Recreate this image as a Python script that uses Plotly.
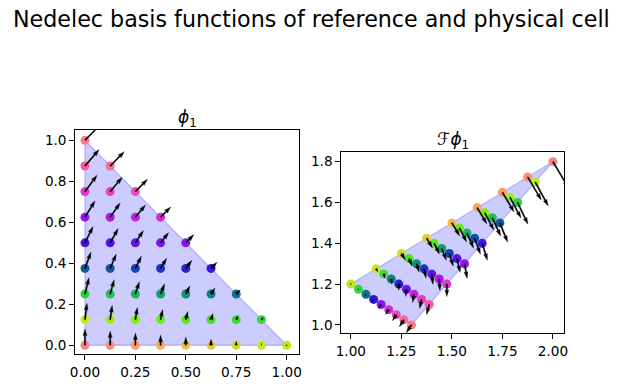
import math
import plotly.graph_objects as go

# ---------------- data ----------------
# reference cell points (row by row, y = 0 ... 1)
ref_x = [0, 0.125, 0.25, 0.375, 0.5, 0.625, 0.75, 0.875, 1.0,
         0, 0.125, 0.25, 0.375, 0.5, 0.625, 0.75, 0.875,
         0, 0.125, 0.25, 0.375, 0.5, 0.625, 0.75,
         0, 0.125, 0.25, 0.375, 0.5, 0.625,
         0, 0.125, 0.25, 0.375, 0.5,
         0, 0.125, 0.25, 0.375,
         0, 0.125, 0.25,
         0, 0.125,
         0]
ref_y = [0] * 9 + [0.125] * 8 + [0.25] * 7 + [0.375] * 6 + [0.5] * 5 + \
        [0.625] * 4 + [0.75] * 3 + [0.875] * 2 + [1.0]
ref_u = [0] * 9 + [0.125] * 8 + [0.25] * 7 + [0.375] * 6 + [0.5] * 5 + \
        [0.625] * 4 + [0.75] * 3 + [0.875] * 2 + [1.0]
ref_v = [1, 0.875, 0.75, 0.625, 0.5, 0.375, 0.25, 0.125, 0,
         1, 0.875, 0.75, 0.625, 0.5, 0.375, 0.25, 0.125,
         1, 0.875, 0.75, 0.625, 0.5, 0.375, 0.25,
         1, 0.875, 0.75, 0.625, 0.5, 0.375,
         1, 0.875, 0.75, 0.625, 0.5,
         1, 0.875, 0.75, 0.625,
         1, 0.875, 0.75,
         1, 0.875,
         1]

# physical cell points (same order)
phys_x = [2.0, 1.875, 1.75, 1.625, 1.5, 1.375, 1.25, 1.125, 1.0,
          1.9125, 1.7875, 1.6625, 1.5375, 1.4125, 1.2875, 1.1625, 1.0375,
          1.825, 1.7, 1.575, 1.45, 1.325, 1.2, 1.075,
          1.7375, 1.6125, 1.4875, 1.3625, 1.2375, 1.1125,
          1.65, 1.525, 1.4, 1.275, 1.15,
          1.5625, 1.4375, 1.3125, 1.1875,
          1.475, 1.35, 1.225,
          1.3875, 1.2625,
          1.3]
phys_y = [1.8, 1.725, 1.65, 1.575, 1.5, 1.425, 1.35, 1.275, 1.2,
          1.7, 1.625, 1.55, 1.475, 1.4, 1.325, 1.25, 1.175,
          1.6, 1.525, 1.45, 1.375, 1.3, 1.225, 1.15,
          1.5, 1.425, 1.35, 1.275, 1.2, 1.125,
          1.4, 1.325, 1.25, 1.175, 1.1,
          1.3, 1.225, 1.15, 1.075,
          1.2, 1.125, 1.05,
          1.1, 1.025,
          1.0]
phys_u = [1.579, 1.382, 1.184, 0.987, 0.789, 0.592, 0.395, 0.197, 0.0,
          1.316, 1.118, 0.921, 0.724, 0.526, 0.329, 0.132, -0.066,
          1.053, 0.855, 0.658, 0.461, 0.263, 0.066, -0.132,
          0.789, 0.592, 0.395, 0.197, 0.0, -0.197,
          0.526, 0.329, 0.132, -0.066, -0.263,
          0.263, 0.066, -0.132, -0.329,
          0.0, -0.197, -0.395,
          -0.263, -0.461,
          -0.526]
phys_v = [-2.632, -2.303, -1.974, -1.645, -1.316, -0.987, -0.658, -0.329, 0.0,
          -2.401, -2.072, -1.743, -1.414, -1.086, -0.757, -0.428, -0.099,
          -2.171, -1.842, -1.513, -1.184, -0.855, -0.526, -0.197,
          -1.941, -1.612, -1.283, -0.954, -0.625, -0.296,
          -1.711, -1.382, -1.053, -0.724, -0.395,
          -1.480, -1.151, -0.822, -0.493,
          -1.250, -0.921, -0.592,
          -1.020, -0.691,
          -0.789]

point_colors = [
    "#f78585", "#f88f78", "#f89c6c", "#f2ab5e", "#eabd4c", "#e0cc3c", "#d4da2c", "#c8e424", "#b8ea18",
    "#bcee20", "#9cee14", "#84ee14", "#70ea18", "#5ee61e", "#4ee024", "#40da2e", "#34d63c",
    "#30cc44", "#22c254", "#18b462", "#12a46e", "#10927a", "#108284", "#10708e",
    "#105e96", "#1252a8", "#1444b8", "#1c34c8", "#2424d4", "#3218dc",
    "#4414e2", "#5412e8", "#6612ee", "#7a12f0", "#8e12f0",
    "#9c12ee", "#b016e8", "#c220e0", "#d22cd6",
    "#dc36cc", "#e640c0", "#ee4cb4",
    "#f45aa6", "#f86898",
    "#f87a86",
]

ref_cell_x = [0, 1, 0]
ref_cell_y = [0, 0, 1]
phys_cell_x = [2.0, 1.0, 1.3]
phys_cell_y = [1.8, 1.2, 1.0]

left_xticks = [0, 0.25, 0.5, 0.75, 1.0]
left_xtext = ["0.00", "0.25", "0.50", "0.75", "1.00"]
left_yticks = [0, 0.2, 0.4, 0.6, 0.8, 1.0]
left_ytext = ["0.0", "0.2", "0.4", "0.6", "0.8", "1.0"]
right_xticks = [1.0, 1.25, 1.5, 1.75, 2.0]
right_xtext = ["1.00", "1.25", "1.50", "1.75", "2.00"]
right_yticks = [1.0, 1.2, 1.4, 1.6, 1.8]
right_ytext = ["1.0", "1.2", "1.4", "1.6", "1.8"]

suptitle = "Nedelec basis functions of reference and physical cell"
left_title = "<i>ϕ</i><sub>1</sub>"
right_title = "ℱ<i>ϕ</i><sub>1</sub>"

# ---------------- layout geometry ----------------
W, H = 619, 389
left_xr = [-0.048, 1.063]
left_yr = [-0.044, 1.049]
right_xr = [0.953, 2.057]
right_yr = [0.959, 1.846]
left_dom_x = [70.3 / W, 297.7 / W]
left_dom_y = [1 - 354.3 / H, 1 - 130.3 / H]
right_dom_x = [340.3 / W, 566.7 / W]
right_dom_y = [1 - 333.3 / H, 1 - 152.3 / H]


def quiver_polys(px, py, u, v, xr):
    """matplotlib-like quiver arrow polygons (autoscale, tail pivot)."""
    mags = [math.hypot(a, b) for a, b in zip(u, v)]
    amean = sum(mags) / len(mags)
    span = xr[1] - xr[0]
    width = 0.006 * span                    # shaft width in data units
    headwidth, headlength, headaxislength = 3.0, 5.0, 4.5
    minsh = 1.0 * headlength
    minlength = 1.0
    xs, ys = [], []
    for x0, y0, a, b, m in zip(px, py, u, v, mags):
        L = m / (0.108 * amean)             # length in shaft widths
        if L < minlength:
            th = [k * math.pi / 3 for k in range(8)]
            X = [math.cos(t) * minlength * 0.5 for t in th]
            Y = [math.sin(t) * minlength * 0.5 for t in th]
        else:
            if L < minsh:
                s = L / minsh
                xx = [0, minsh - headaxislength, minsh - headlength, minsh]
                xx = [s * q for q in xx]
                yy = [s * q for q in [0.5, 0.5, 0.5 * headwidth, 0]]
            else:
                xx = [0, L - headaxislength, L - headlength, L]
                yy = [0.5, 0.5, 0.5 * headwidth, 0]
            ii = [0, 1, 2, 3, 2, 1, 0, 0]
            X = [xx[k] for k in ii]
            Y = [yy[k] for k in ii]
            for k in range(3, 7):
                Y[k] = -Y[k]
        ang = math.atan2(b, a) if m > 0 else 0.0
        ca, sa = math.cos(ang), math.sin(ang)
        for X1, Y1 in zip(X, Y):
            xs.append(x0 + width * (X1 * ca - Y1 * sa))
            ys.append(y0 + width * (X1 * sa + Y1 * ca))
        xs.append(None)
        ys.append(None)
    return xs, ys


fig = go.Figure()


def add_panel(cx, cy, px, py, u, v, xr, xa, ya):
    fig.add_trace(go.Scatter(
        x=cx + [cx[0]], y=cy + [cy[0]], mode="lines", fill="toself",
        fillcolor="rgba(0,0,255,0.2)", line=dict(color="rgba(0,0,255,0.2)", width=1.4),
        xaxis=xa, yaxis=ya, hoverinfo="skip", showlegend=False))
    fig.add_trace(go.Scatter(
        x=px, y=py, mode="markers",
        marker=dict(size=9, color=point_colors, line=dict(width=0)),
        xaxis=xa, yaxis=ya, showlegend=False))
    ax_, ay_ = quiver_polys(px, py, u, v, xr)
    fig.add_trace(go.Scatter(
        x=ax_, y=ay_, mode="lines", fill="toself", fillcolor="black",
        line=dict(color="black", width=0.3), xaxis=xa, yaxis=ya,
        hoverinfo="skip", showlegend=False))


add_panel(ref_cell_x, ref_cell_y, ref_x, ref_y, ref_u, ref_v, left_xr, "x", "y")
add_panel(phys_cell_x, phys_cell_y, phys_x, phys_y, phys_u, phys_v, right_xr, "x2", "y2")

axis_common = dict(showgrid=False, zeroline=False, showline=True, mirror=True,
                   linecolor="black", linewidth=1.1, ticks="outside", ticklen=5,
                   tickwidth=1.1, tickcolor="black",
                   tickfont=dict(family="DejaVu Sans", size=13.6, color="black"))

fig.update_layout(
    width=W, height=H, margin=dict(l=0, r=0, t=0, b=0),
    paper_bgcolor="white", plot_bgcolor="white", showlegend=False,
    xaxis=dict(domain=left_dom_x, range=left_xr, tickvals=left_xticks, ticktext=left_xtext,
               anchor="y", **axis_common),
    yaxis=dict(domain=left_dom_y, range=left_yr, tickvals=left_yticks, ticktext=left_ytext,
               anchor="x", **axis_common),
    xaxis2=dict(domain=right_dom_x, range=right_xr, tickvals=right_xticks, ticktext=right_xtext,
                anchor="y2", **axis_common),
    yaxis2=dict(domain=right_dom_y, range=right_yr, tickvals=right_yticks, ticktext=right_ytext,
                anchor="x2", **axis_common),
    annotations=[
        dict(text=suptitle, x=0.5, y=1 - 19 / H, xref="paper", yref="paper",
             xanchor="center", yanchor="middle", showarrow=False,
             font=dict(family="DejaVu Sans", size=22.2, color="black")),
        dict(text=left_title, x=(left_dom_x[0] + left_dom_x[1]) / 2, y=1 - 118 / H,
             xref="paper", yref="paper", xanchor="center", yanchor="middle", showarrow=False,
             font=dict(family="DejaVu Sans", size=17, color="black")),
        dict(text=right_title, x=(right_dom_x[0] + right_dom_x[1]) / 2, y=1 - 140 / H,
             xref="paper", yref="paper", xanchor="center", yanchor="middle", showarrow=False,
             font=dict(family="DejaVu Sans", size=17, color="black")),
    ],
)

fig.write_html("out.html", config={"displayModeBar": False},
               post_script="document.body.style.margin='0';document.body.style.padding='0';")
